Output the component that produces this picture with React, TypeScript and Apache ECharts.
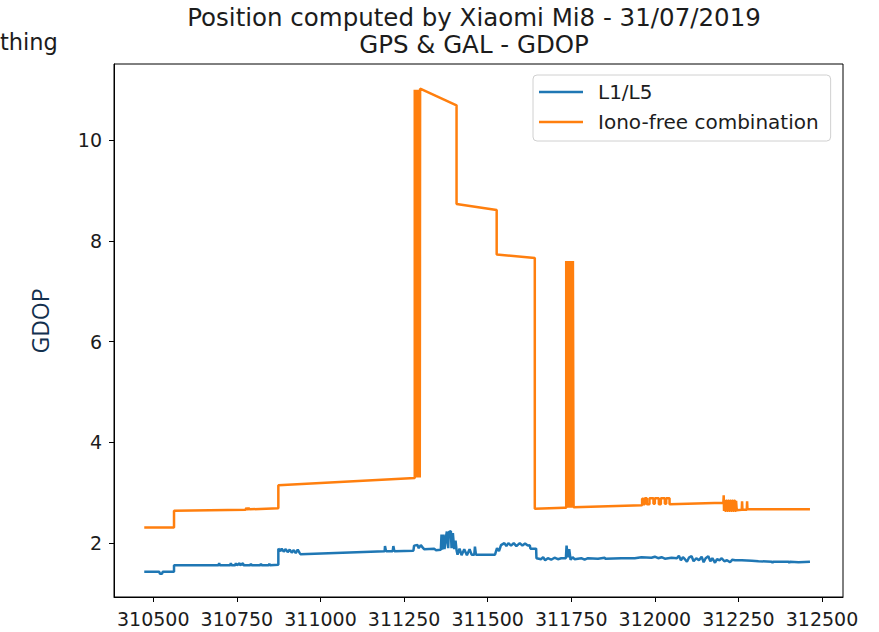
import React, { useEffect, useRef } from "react";
import * as echarts from "echarts";

const TITLE_LINE_1 = "Position computed by Xiaomi Mi8 - 31/07/2019";
const TITLE_LINE_2 = "GPS & GAL - GDOP";
const Y_NAME = "GDOP";
const CUT_TEXT = "thing";

const SERIES_NAMES = ["L1/L5", "Iono-free combination"];

const X_TICKS = [310500, 310750, 311000, 311250, 311500, 311750, 312000, 312250, 312500];
const Y_TICKS = [2, 4, 6, 8, 10];

const l1X = [
  310473, 310518, 310520, 310526, 310528, 310562, 310562, 310695, 310697, 310699,
  310730, 310732, 310734, 310745, 310747, 310750, 310758, 310760, 310768, 310770,
  310790, 310792, 310794, 310820, 310822, 310824, 310845, 310847, 310849, 310874,
  310874, 310880, 310884, 310890, 310896, 310902, 310908, 310914, 310920, 310926,
  310932, 310938, 310940, 311192, 311193, 311196, 311216, 311218, 311221, 311278,
  311280, 311290, 311294, 311300, 311306, 311310, 311340, 311345, 311360, 311362,
  311364, 311368, 311371, 311376, 311378, 311382, 311384, 311390, 311392, 311396,
  311400, 311404, 311407, 311410, 311416, 311422, 311430, 311438, 311446, 311452,
  311460, 311462, 311465, 311522, 311528, 311534, 311540, 311550, 311556, 311562,
  311570, 311578, 311586, 311596, 311604, 311612, 311620, 311626, 311628, 311645,
  311646, 311660, 311666, 311672, 311680, 311690, 311700, 311710, 311720, 311734,
  311736, 311740, 311744, 311748, 311754, 311760, 311780, 311790, 311800, 311830,
  311850, 311852, 311900, 311940, 311960, 311990, 312000, 312010, 312020, 312030,
  312050, 312066, 312072, 312078, 312084, 312090, 312096, 312102, 312110, 312116,
  312124, 312132, 312140, 312146, 312152, 312160, 312166, 312172, 312180, 312186,
  312194, 312200, 312208, 312216, 312225, 312232, 312240, 312260, 312290, 312310,
  312350, 312352, 312354, 312400, 312402, 312404, 312430, 312464,
];
const l1Y = [
  1.43, 1.43, 1.39, 1.39, 1.43, 1.43, 1.56, 1.56, 1.6, 1.56,
  1.56, 1.6, 1.56, 1.56, 1.6, 1.56, 1.6, 1.56, 1.6, 1.56,
  1.56, 1.59, 1.56, 1.56, 1.59, 1.56, 1.56, 1.59, 1.56, 1.57,
  1.89, 1.84, 1.89, 1.83, 1.88, 1.82, 1.87, 1.81, 1.86, 1.8,
  1.87, 1.8, 1.78, 1.84, 1.94, 1.84, 1.84, 1.94, 1.84, 1.85,
  1.95, 1.96, 1.9, 1.96, 1.91, 1.88, 1.89, 1.86, 1.87, 2.17,
  1.87, 2.17, 1.88, 2.15, 2.23, 1.9, 2.22, 2.24, 1.9, 2.2,
  1.88, 2.05, 1.86, 1.77, 1.89, 1.76, 1.88, 1.76, 1.88, 1.77,
  1.77, 1.93, 1.77, 1.77, 1.9, 1.84, 1.96, 2.0, 1.94, 2.0,
  1.95, 2.0, 1.94, 2.0, 1.95, 1.99, 1.95, 1.96, 1.89, 1.89,
  1.7, 1.68, 1.72, 1.66, 1.7, 1.67, 1.71, 1.68, 1.7, 1.7,
  1.95, 1.72, 1.88, 1.67, 1.72, 1.68, 1.7, 1.67, 1.7, 1.69,
  1.71, 1.69, 1.7, 1.7, 1.72, 1.71, 1.73, 1.7, 1.72, 1.69,
  1.71, 1.7, 1.75, 1.66, 1.72, 1.68, 1.63, 1.71, 1.74, 1.64,
  1.7, 1.66, 1.73, 1.62, 1.7, 1.74, 1.64, 1.7, 1.61, 1.68,
  1.66, 1.7, 1.64, 1.66, 1.62, 1.67, 1.66, 1.66, 1.65, 1.64,
  1.63, 1.61, 1.63, 1.63, 1.61, 1.63, 1.62, 1.63,
];

const ionoX = [
  310473, 310562, 310562, 310776, 310778, 310782, 310785, 310788, 310874, 310874,
  311282,
  311282, 311283, 311284, 311285, 311286, 311287, 311288, 311289, 311290, 311291,
  311292, 311293, 311294, 311295, 311296, 311297, 311298,
  311407, 311407, 311527, 311527, 311641, 311641, 311729, 311735,
  311735, 311737, 311737, 311739, 311739, 311741, 311741, 311743, 311743, 311745,
  311745, 311747, 311747, 311749, 311749, 311751, 311751, 311753, 311753, 311755,
  311755, 311757, 311757,
  311962, 311962, 311966, 311966, 311970, 311970, 311976, 311976, 311984, 311984,
  311996, 311996, 312000, 312000, 312012, 312012, 312018, 312018, 312030, 312030,
  312034, 312034, 312044, 312044,
  312205, 312206, 312207,
  312207, 312210, 312210, 312213, 312213, 312216, 312216, 312219, 312219, 312222,
  312222, 312225, 312225, 312228, 312228, 312231, 312231, 312234, 312234, 312237,
  312237, 312240, 312240, 312243, 312243, 312245, 312245,
  312260, 312261, 312262, 312275, 312276, 312277, 312464,
];
const ionoY = [
  2.31, 2.31, 2.64, 2.66, 2.7, 2.66, 2.7, 2.67, 2.69, 3.15,
  3.29,
  11.0, 3.3, 11.0, 3.3, 11.0, 3.3, 11.0, 3.3, 11.0, 3.3,
  11.0, 3.3, 11.0, 3.3, 11.0, 3.3, 11.02,
  10.69, 8.73, 8.61, 7.73, 7.66, 2.68, 2.7, 2.7,
  7.6, 7.6, 2.7, 2.7, 7.6, 7.6, 2.7, 2.7, 7.6, 7.6,
  2.7, 2.7, 7.6, 7.6, 2.7, 2.7, 7.6, 7.6, 2.7, 2.7,
  7.6, 7.6, 2.71,
  2.75, 2.88, 2.88, 2.77, 2.77, 2.89, 2.89, 2.77, 2.77, 2.89,
  2.89, 2.78, 2.78, 2.89, 2.89, 2.77, 2.77, 2.89, 2.89, 2.78,
  2.78, 2.89, 2.89, 2.77,
  2.8, 2.95, 2.64,
  2.84, 2.84, 2.64, 2.64, 2.84, 2.84, 2.64, 2.64, 2.84, 2.84,
  2.64, 2.64, 2.84, 2.84, 2.64, 2.64, 2.84, 2.84, 2.64, 2.64,
  2.84, 2.84, 2.64, 2.64, 2.84, 2.84, 2.65,
  2.66, 2.83, 2.66, 2.66, 2.83, 2.67, 2.67,
];

const zip = (xs: number[], ys: number[]) => xs.map((x, i) => [x, ys[i]]);

const FONT = "DejaVu Sans";
const TEXT = "#1c1c1c";

export default function App() {
  const ref = useRef<HTMLDivElement>(null);
  useEffect(() => {
    if (!ref.current) return;
    const chart = echarts.init(ref.current, null, { renderer: "svg" });
    chart.setOption({
      animation: false,
      backgroundColor: "#ffffff",
      grid: {
        left: 114,
        top: 64,
        width: 729,
        height: 533,
        show: true,
        borderColor: "#000",
        borderWidth: 1,
        containLabel: false,
      },
      legend: {
        left: 533,
        top: 75,
        orient: "vertical",
        icon: "rect",
        itemWidth: 44,
        itemHeight: 2.5,
        itemGap: 10,
        padding: [7, 12, 9, 6],
        backgroundColor: "#fff",
        borderColor: "#d0d0d0",
        borderWidth: 1,
        borderRadius: 4,
        textStyle: {
          fontFamily: FONT,
          fontSize: 20,
          lineHeight: 20,
          color: TEXT,
          padding: [0, 0, 0, 10],
        },
        data: SERIES_NAMES,
      },
      xAxis: {
        type: "value",
        min: 310382.5,
        max: 312562.8,
        splitLine: { show: false },
        axisLine: { show: true, onZero: false, lineStyle: { color: "#000", width: 1 } },
        axisTick: { show: true, customValues: X_TICKS, length: 5, lineStyle: { color: "#000", width: 1 } },
        axisLabel: {
          customValues: X_TICKS,
          formatter: (v: number) => String(v),
          fontFamily: FONT,
          fontSize: 19,
          color: TEXT,
          margin: 12,
        },
      },
      yAxis: {
        type: "value",
        min: 0.93,
        max: 11.51,
        splitLine: { show: false },
        axisLine: { show: true, onZero: false, lineStyle: { color: "#000", width: 1 } },
        axisTick: { show: true, customValues: Y_TICKS, length: 5, lineStyle: { color: "#000", width: 1 } },
        axisLabel: {
          customValues: Y_TICKS,
          formatter: (v: number) => String(v),
          fontFamily: FONT,
          fontSize: 19,
          color: TEXT,
          margin: 12,
        },
      },
      graphic: [
        {
          type: "text",
          x: 474,
          y: 17,
          style: {
            text: TITLE_LINE_1,
            fontFamily: FONT,
            fontSize: 24.5,
            lineHeight: 24,
            fill: TEXT,
            textAlign: "center",
            textVerticalAlign: "middle",
          },
        },
        {
          type: "text",
          x: 474,
          y: 44,
          style: {
            text: TITLE_LINE_2,
            fontFamily: FONT,
            fontSize: 24.5,
            lineHeight: 24,
            fill: TEXT,
            textAlign: "center",
            textVerticalAlign: "middle",
          },
        },
        {
          type: "text",
          x: 0,
          y: 42,
          style: {
            text: CUT_TEXT,
            fontFamily: FONT,
            fontSize: 22.5,
            fill: TEXT,
            textAlign: "left",
            textVerticalAlign: "middle",
          },
        },
        {
          type: "text",
          x: 40,
          y: 321,
          rotation: Math.PI / 2,
          style: {
            text: Y_NAME,
            fontFamily: "Open Sans",
            fontSize: 23,
            fill: "#13304e",
            textAlign: "center",
            textVerticalAlign: "middle",
          },
        },
      ],
      series: [
        {
          name: SERIES_NAMES[0],
          type: "line",
          data: zip(l1X, l1Y),
          symbol: "none",
          color: "#1f77b4",
          lineStyle: { width: 2.5, color: "#1f77b4" },
          z: 2,
        },
        {
          name: SERIES_NAMES[1],
          type: "line",
          data: zip(ionoX, ionoY),
          symbol: "none",
          color: "#ff7f0e",
          lineStyle: { width: 2.5, color: "#ff7f0e" },
          z: 3,
        },
      ],
    });
    return () => chart.dispose();
  }, []);
  return (
    <div
      ref={ref}
      style={{ position: "absolute", left: 0, top: 0, width: 879, height: 632 }}
    />
  );
}
